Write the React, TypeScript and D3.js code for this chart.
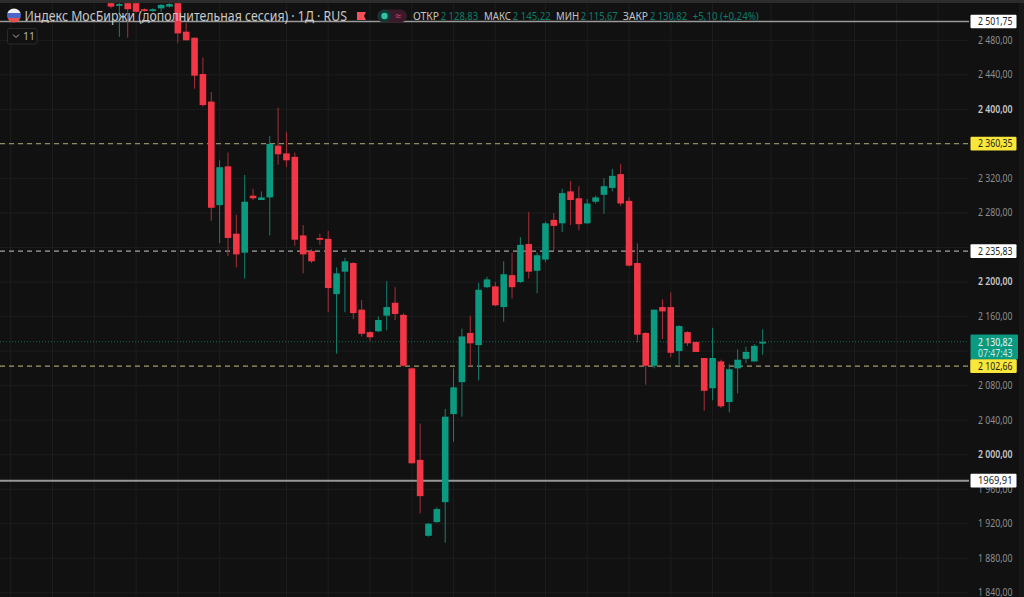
import React from "react";
import * as d3 from "d3";

// [open, high, low, close]
const candles: number[][] = [
  [2523,2526,2517,2519],[2521,2523,2484,2522],[2523,2524,2483,2516],[2523,2524,2512,2513],
  [2516,2517,2513,2515],[2514,2517,2513,2516],[2517,2522,2513,2521],[2519,2523,2518,2522],
  [2523,2524,2477,2488],[2490,2500,2480,2480],[2483,2483,2424,2439],[2441,2460,2403,2405],
  [2409,2420,2271,2286],[2289,2341,2245,2333],[2334,2350,2230,2251],[2256,2278,2217,2232],
  [2234,2324,2204,2293],[2300,2308,2295,2297],[2295,2305,2295,2298],[2298,2369,2254,2360],
  [2358,2402,2336,2348],[2349,2374,2333,2341],[2345,2350,2242,2249],[2254,2266,2210,2232],
  [2236,2238,2222,2224],[2251,2256,2243,2249],[2250,2259,2165,2193],[2186,2217,2117,2210],
  [2212,2228,2165,2224],[2222,2223,2157,2164],[2168,2179,2137,2140],[2142,2143,2132,2136],
  [2143,2160,2142,2156],[2161,2201,2144,2171],[2176,2194,2156,2163],[2162,2164,2102,2103],
  [2100,2101,1990,1990],[1994,2036,1932,1952],[1906,1921,1905,1920],[1922,1939,1921,1937],
  [1945,2053,1898,2044],[2047,2100,2015,2078],[2084,2146,2044,2137],[2141,2161,2102,2129],
  [2127,2199,2086,2191],[2194,2206,2193,2203],[2195,2200,2172,2173],[2171,2224,2154,2209],
  [2208,2234,2181,2194],[2200,2252,2199,2243],[2244,2281,2204,2212],[2213,2234,2187,2231],
  [2226,2270,2223,2268],[2272,2280,2237,2265],[2268,2308,2258,2303],[2305,2317,2266,2295],
  [2297,2311,2260,2267],[2268,2296,2267,2291],[2293,2300,2291,2298],[2301,2320,2279,2311],
  [2309,2331,2305,2323],[2325,2337,2288,2291],[2294,2298,2218,2219],[2222,2245,2130,2139],
  [2141,2142,2081,2103],[2103,2168,2100,2168],[2171,2180,2134,2166],[2171,2188,2113,2118],
  [2120,2150,2104,2149],[2142,2143,2126,2129],[2130.5,2131,2119,2119],[2112,2112,2051,2074],
  [2077,2147,2063,2112],[2108,2110,2054,2056],[2061,2105,2049,2099],[2100,2122,2071,2110],
  [2111,2125,2106,2119],[2108,2128,2108,2126],[2128.83,2145.22,2115.67,2130.82],
];
const yTicks = [2480,2440,2400,2320,2280,2200,2160,2080,2040,2000,1960,1920,1880,1840];
const boldTicks = [2400,2200,2000];
const gridPrices = [2480,2440,2400,2360,2320,2280,2240,2200,2160,2120,2080,2040,2000,1960,1920,1880,1840];
const gridBars = [-12,-7,-2,3,8,13,21,26,31,36,41,46,52,57,62,67,72,79,84,89,94,99];
const lastClose = 2130.82;
const priceLines = [
  { v: 2501.75, label: "2 501,75", color: "#9a9a9a", box: "#ffffff", dash: "", w: 1.5 },
  { v: 2360.35, label: "2 360,35", color: "#8f8a62", box: "#f9e63a", dash: "5 4", w: 1.2 },
  { v: 2235.83, label: "2 235,83", color: "#a3a3a0", box: "#ffffff", dash: "5 4", w: 1.2 },
  { v: 2102.66, label: "2 102,66", color: "#a19c6c", box: "#f9e63a", dash: "5 4", w: 1.2 },
  { v: 1969.91, label: "1969,91", color: "#979797", box: "#ffffff", dash: "", w: 2 },
];
const legendItems = [
  { k: "ОТКР", kx: 413, kw: 26, val: "2 128,83", vx: 440.7, vw: 37.5 },
  { k: "МАКС", kx: 484, kw: 27, val: "2 145,22", vx: 512.7, vw: 38 },
  { k: "МИН", kx: 556, kw: 23, val: "2 115,67", vx: 580.7, vw: 37 },
  { k: "ЗАКР", kx: 623, kw: 25, val: "2 130,82", vx: 650, vw: 37 },
];

const W = 1024, H = 597, paneR = 969;
const FONT = "'Noto Sans', 'Open Sans', sans-serif";
const UP = "#0b9a80", DOWN = "#f23645";
const FIT = "spacingAndGlyphs";

export default function App() {
  const y = d3.scaleLinear().domain([2480, 1840]).range([40.3, 592.8]);
  const x = d3.scaleLinear().domain([0, 78]).range([111, 762.7]);
  const bodyW = 6.6;
  return (
    <svg width={W} height={H} viewBox={`0 0 ${W} ${H}`} style={{ position: "absolute", left: 0, top: 0, display: "block", fontFamily: FONT }}>
      <defs>
        <clipPath id="pane"><rect x={0} y={3} width={paneR} height={H - 3} /></clipPath>
      </defs>
      <rect width={W} height={H} fill="#111111" />
      <rect x={1019} width={5} height={H} fill="#171717" />
      <rect width={W} height={3} fill="#2c2c2c" />
      <g clipPath="url(#pane)">
        {gridPrices.map(p => <line key={p} x1={0} x2={paneR} y1={y(p)} y2={y(p)} stroke="#1d1d1d" />)}
        {gridBars.map(b => <line key={b} x1={x(b)} x2={x(b)} y1={3} y2={H} stroke="#1d1d1d" />)}
        <line x1={0} x2={paneR} y1={y(lastClose)} y2={y(lastClose)} stroke="#0d6f5e" strokeDasharray="1 2" />
        {priceLines.map(l => (
          <line key={l.v} x1={0} x2={paneR} y1={y(l.v)} y2={y(l.v)} stroke={l.color} strokeWidth={l.w} strokeDasharray={l.dash || undefined} />
        ))}
        {candles.map(([o, h, l, c], i) => {
          const up = c >= o;
          const col = up ? UP : DOWN;
          const top = y(Math.max(o, c)), bot = y(Math.min(o, c));
          return (
            <g key={i}>
              <line x1={x(i)} x2={x(i)} y1={y(h)} y2={y(l)} stroke={up ? "#14806d" : "#a82f3b"} strokeWidth={1} />
              <rect x={x(i) - bodyW / 2} y={top} width={bodyW} height={Math.max(bot - top, 1.8)} fill={col} />
            </g>
          );
        })}
      </g>

      {/* right scale */}
      {yTicks.map(t => (
        <text key={t} x={978} y={y(t) + 3.4} fontSize={10.5} textLength={34.5} lengthAdjust={FIT}
          fill={boldTicks.includes(t) ? "#c8c8c8" : "#8f8f8f"} fontWeight={boldTicks.includes(t) ? 600 : 400}>
          {d3.format(",.2f")(t).replace(",", " ").replace(".", ",")}
        </text>
      ))}
      {priceLines.map(l => (
        <g key={l.v}>
          <rect x={970.5} y={y(l.v) - 6.8} width={46} height={13.6} rx={1} fill={l.box} />
          <text x={978} y={y(l.v) + 3.6} fontSize={10.5} textLength={34.5} lengthAdjust={FIT} fill="#222">{l.label}</text>
        </g>
      ))}
      <rect x={970.5} y={334.5} width={47.5} height={25} rx={1} fill="#0b9a80" />
      <text x={978} y={345.5} fontSize={10.5} textLength={34.5} lengthAdjust={FIT} fill="#e8f5f2">2 130,82</text>
      <text x={978} y={356.5} fontSize={10.5} textLength={34.5} lengthAdjust={FIT} fill="#cdeae4">07:47:43</text>
      <rect x={970.5} y={359.5} width={46} height={13.6} rx={1} fill="#f9e63a" />
      <text x={978} y={369.6} fontSize={10.5} textLength={34.5} lengthAdjust={FIT} fill="#222">2 102,66</text>

      {/* header */}
      <clipPath id="flag"><circle cx={14} cy={15.5} r={7} /></clipPath>
      <g clipPath="url(#flag)">
        <rect x={7} y={8} width={14} height={5} fill="#f2f2f2" />
        <rect x={7} y={13} width={14} height={5} fill="#4d68c4" />
        <rect x={7} y={18} width={14} height={5} fill="#e2504f" />
      </g>
      <text x={24.5} y={21} fontSize={13.5} textLength={322.5} lengthAdjust={FIT} fill="#c9c9c9">Индекс МосБиржи (дополнительная сессия) · 1Д · RUS</text>
      <path d="M357 12h9l-2 4 2 4h-9z" fill="#f4505a" />
      <rect x={377} y={9.5} width={30} height={13} rx={6.5} fill="#3a1a2a" />
      <circle cx={384.5} cy={16} r={6.5} fill="#103a33" />
      <circle cx={384.5} cy={16} r={3.2} fill="#2fc2a6" />
      <text x={398} y={20} fontSize={11} textAnchor="middle" fill="#d8457f">≈</text>
      {legendItems.map(it => (
        <g key={it.k} fontSize={10.5}>
          <text x={it.kx} y={20} textLength={it.kw} lengthAdjust={FIT} fill="#c4c4c4">{it.k}</text>
          <text x={it.vx} y={20} textLength={it.vw} lengthAdjust={FIT} fill="#0e7d69">{it.val}</text>
        </g>
      ))}
      <text x={692.7} y={20} fontSize={10.5} textLength={66} lengthAdjust={FIT} fill="#0e7d69">+5,10 (+0,24%)</text>
      <rect x={7.5} y={28.5} width={29.5} height={15.5} rx={2} fill="#111111" stroke="#2a2a2a" />
      <path d="M13 34.5l3 3 3-3" fill="none" stroke="#b0b0b0" strokeWidth={1} />
      <text x={23} y={40} fontSize={10.5} fill="#b0b0b0">11</text>
    </svg>
  );
}
